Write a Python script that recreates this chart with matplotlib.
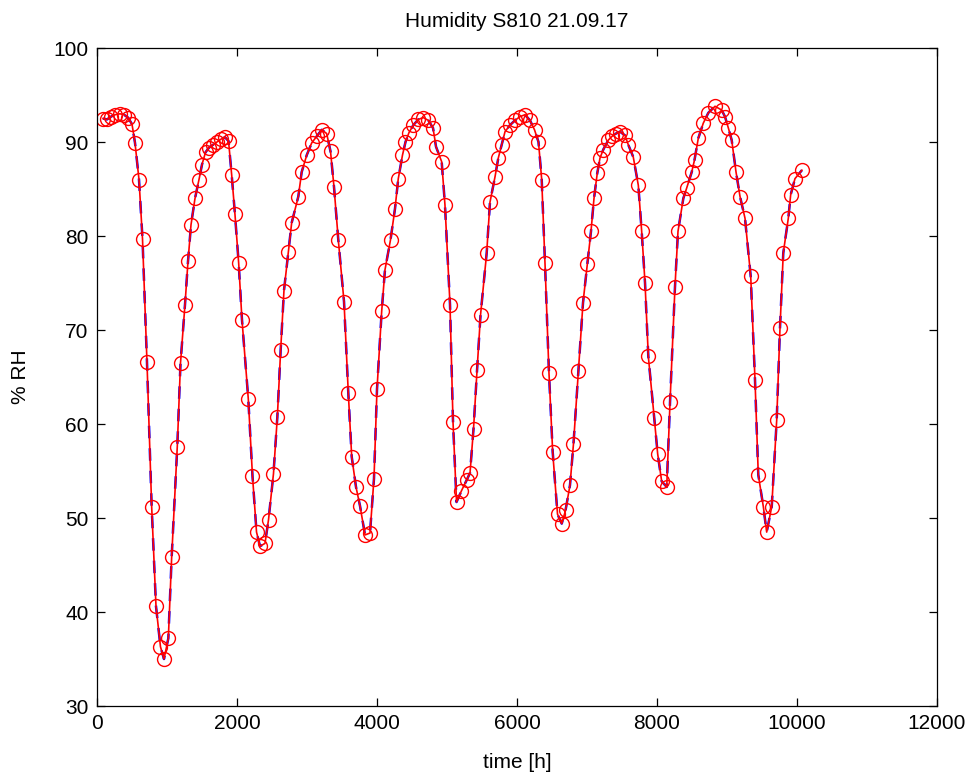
import matplotlib
matplotlib.use("Agg")
import matplotlib.pyplot as plt

plt.rcParams['font.family'] = ['Liberation Sans', 'DejaVu Sans']

# time [h] of each sample and measured/fitted relative humidity [% RH]
time_h = [86, 143, 200, 257, 329, 386, 443, 500, 543, 600,
          650, 714, 781, 843, 907, 957, 1019, 1067, 1147, 1193,
          1257, 1300, 1343, 1400, 1457, 1500, 1550, 1600, 1657, 1714,
          1771, 1829, 1879, 1924, 1971, 2024, 2071, 2161, 2221, 2279,
          2329, 2400, 2450, 2521, 2576, 2624, 2671, 2733, 2781, 2876,
          2924, 2996, 3067, 3139, 3210, 3281, 3336, 3386, 3447, 3529,
          3590, 3639, 3700, 3757, 3829, 3900, 3957, 4000, 4067, 4114,
          4193, 4257, 4304, 4364, 4407, 4457, 4519, 4590, 4661, 4733,
          4800, 4843, 4924, 4971, 5043, 5086, 5136, 5207, 5279, 5329,
          5379, 5429, 5479, 5567, 5614, 5686, 5733, 5781, 5829, 5900,
          5971, 6043, 6114, 6186, 6250, 6307, 6353, 6400, 6457, 6510,
          6579, 6639, 6693, 6757, 6807, 6876, 6943, 7004, 7057, 7100,
          7147, 7186, 7233, 7304, 7357, 7414, 7471, 7543, 7590, 7661,
          7733, 7781, 7829, 7876, 7961, 8010, 8067, 8139, 8186, 8257,
          8300, 8376, 8424, 8496, 8536, 8590, 8661, 8733, 8829, 8924,
          8971, 9019, 9067, 9129, 9186, 9257, 9339, 9400, 9447, 9519,
          9567, 9639, 9710, 9757, 9804, 9876, 9910, 9971, 10070]

humidity = [92.5, 92.4, 92.7, 92.9, 93.0, 92.9, 92.6, 91.9, 89.9, 86.0,
            79.7, 66.6, 51.2, 40.6, 36.3, 35.0, 37.2, 45.9, 57.6, 66.5,
            72.7, 77.3, 81.2, 84.0, 86.0, 87.6, 88.9, 89.4, 89.7, 90.0,
            90.3, 90.5, 90.1, 86.5, 82.3, 77.1, 71.1, 62.7, 54.5, 48.5,
            47.0, 47.3, 49.8, 54.7, 60.7, 67.9, 74.2, 78.3, 81.4, 84.2,
            86.8, 88.6, 89.9, 90.6, 91.3, 90.9, 89.0, 85.2, 79.6, 73.0,
            63.3, 56.5, 53.3, 51.3, 48.2, 48.4, 54.2, 63.7, 72.0, 76.4,
            79.6, 82.9, 86.1, 88.6, 90.0, 91.0, 91.8, 92.4, 92.6, 92.3,
            91.5, 89.5, 87.9, 83.3, 72.7, 60.2, 51.7, 52.9, 54.0, 54.8,
            59.5, 65.7, 71.6, 78.2, 83.6, 86.3, 88.3, 89.7, 91.1, 91.8,
            92.3, 92.7, 92.9, 92.3, 91.3, 90.0, 86.0, 77.1, 65.4, 57.0,
            50.4, 49.4, 50.8, 53.5, 57.9, 65.6, 72.9, 77.0, 80.5, 84.0,
            86.7, 88.3, 89.2, 90.2, 90.6, 90.9, 91.1, 90.7, 89.7, 88.4,
            85.4, 80.5, 75.0, 67.2, 60.6, 56.8, 53.9, 53.3, 62.3, 74.6,
            80.5, 84.0, 85.1, 86.8, 88.1, 90.4, 92.0, 93.1, 93.8, 93.4,
            92.7, 91.5, 90.2, 86.8, 84.2, 81.9, 75.7, 64.7, 54.6, 51.2,
            48.5, 51.2, 60.4, 70.2, 78.2, 81.9, 84.4, 86.1, 87.0]

x_ticks = [0, 2000, 4000, 6000, 8000, 10000, 12000]
y_ticks = [30, 40, 50, 60, 70, 80, 90, 100]

fig = plt.figure(figsize=(9.74, 7.79), dpi=100)
ax = fig.add_axes([97/974, 73/779, 840/974, 658/779])

ax.plot(time_h, humidity, linestyle='--', color='blue', linewidth=1.8, dashes=(5, 4))
ax.plot(time_h, humidity, linestyle='-', color='red', linewidth=1.2,
        marker='o', markersize=10, markerfacecolor='none',
        markeredgecolor='red', markeredgewidth=1.0)

ax.set_xlim(0, 12000)
ax.set_ylim(30, 100)
ax.set_xticks(x_ticks)
ax.set_yticks(y_ticks)
ax.tick_params(direction='in', length=6, width=0.9, top=True, right=True,
               labelsize=15, pad=6)
for s in ax.spines.values():
    s.set_linewidth(0.9)

ax.set_title('Humidity S810 21.09.17', fontsize=15, pad=15)
ax.set_xlabel('time [h]', fontsize=15, labelpad=14)
ax.set_ylabel('% RH', fontsize=15, labelpad=17)

fig.savefig('out.png', dpi=100, facecolor='white')
